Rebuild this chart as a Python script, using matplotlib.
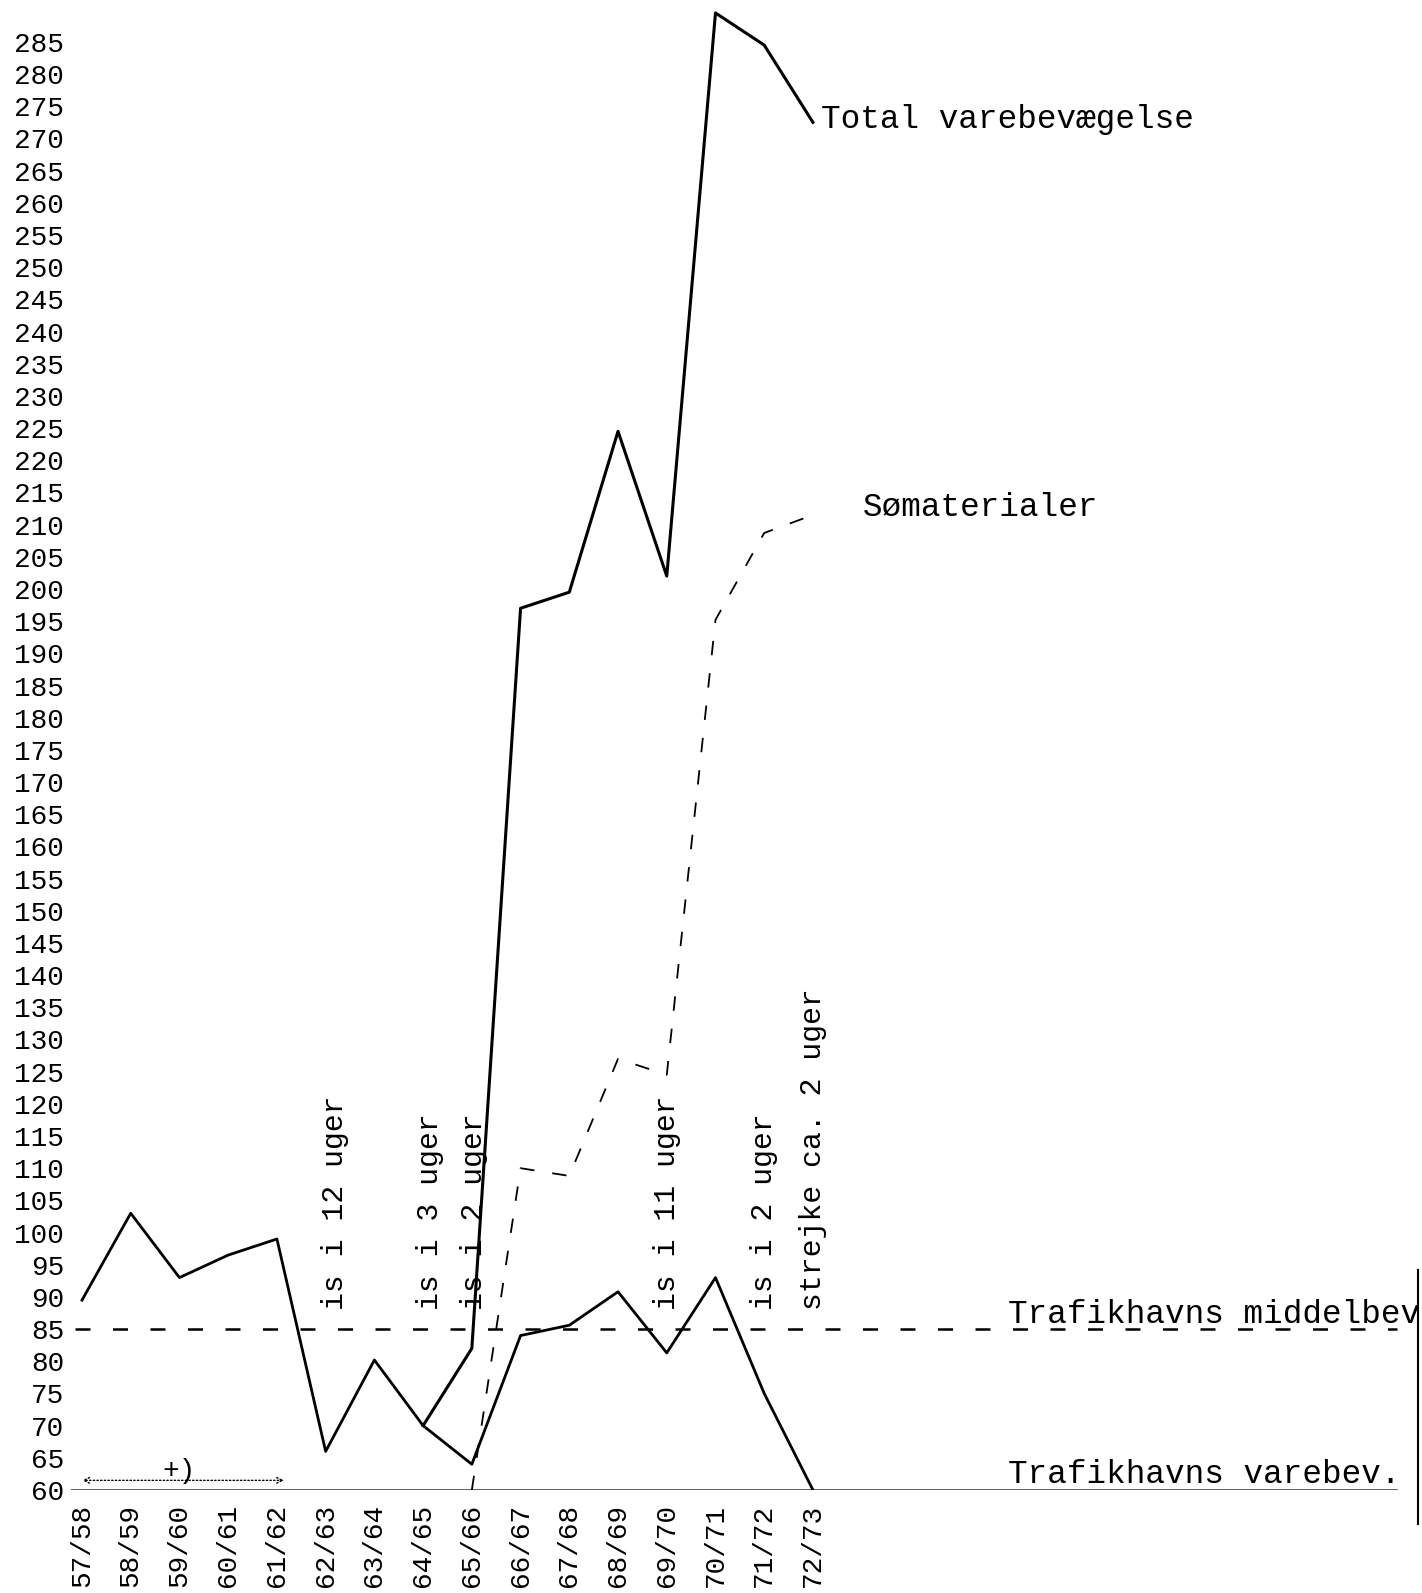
import matplotlib
matplotlib.use("Agg")
import matplotlib.pyplot as plt
import numpy as np

years = ["57/58", "58/59", "59/60", "60/61", "61/62", "62/63", "63/64", "64/65",
         "65/66", "66/67", "67/68", "68/69", "69/70", "70/71", "71/72", "72/73"]
trafik = [89.5, 103, 93, 96.5, 99, 66, 80.2, 70, 64, 84, 85.6, 90.8, 81.3, 93, 75, 60]
total_idx = [7, 8, 9, 10, 11, 12, 13, 14, 15]
total = [70, 82, 197, 199.5, 224.5, 202, 289.5, 284.5, 272.5]
soma_idx = [8, 9, 10, 11, 12, 13, 14, 15]
soma = [60, 110, 108.8, 127, 124.5, 195.2, 208.7, 211.5]
middel = 85
yticks = list(range(60, 290, 5))
ice_x = [5.2, 7.15, 8.05, 12.0, 14.0, 15.0]
ice_txt = ["is i 12 uger", "is i 3 uger", "is i 2 uger", "is i 11 uger",
           "is i 2 uger", "strejke ca. 2 uger"]

W, H = 1422, 1593
fig = plt.figure(figsize=(W / 100, H / 100), dpi=100)
left_px, right_px, bottom_px = 71, 1419, 1490
ax = fig.add_axes([left_px / W, (H - bottom_px) / H, (right_px - left_px) / W, bottom_px / H])
x0_px, dx_px = 82, 48.73
ax.set_xlim((left_px - x0_px) / dx_px, (right_px - x0_px) / dx_px)
ax.set_ylim(60, 60 + bottom_px / 6.436)
for s in ax.spines.values():
    s.set_visible(False)

font = "Liberation Mono"
ax.set_yticks(yticks)
ax.set_yticklabels([str(v) for v in yticks], fontfamily=font, fontsize=20)
ax.set_xticks(range(len(years)))
ax.set_xticklabels(years, rotation=90, fontfamily=font, fontsize=20, va="top")
ax.tick_params(axis="y", length=0, pad=5)
ax.tick_params(axis="x", length=0, pad=10)

ax.axhline(60, color="#444444", lw=1.2, xmax=(1397 - left_px) / (right_px - left_px))
ax.axhline(middel, color="black", lw=1.8, ls=(0, (6, 9)),
           xmin=(75 - left_px) / (right_px - left_px),
           xmax=(1397 - left_px) / (right_px - left_px))

x = np.arange(len(years))
ax.plot(x, trafik, color="black", lw=2)
ax.plot(total_idx, total, color="black", lw=2.2)
ax.plot(soma_idx, soma, color="black", lw=1.3, ls=(0, (8, 10)))

for xi, t in zip(ice_x, ice_txt):
    ax.text(xi, 88, t, rotation=90, ha="center", va="bottom",
            fontfamily=font, fontsize=21.5)

ax.text(15.17, 273, "Total varebevægelse", ha="left", va="center",
        fontfamily=font, fontsize=23.5)
ax.text(16.03, 212.6, "Sømaterialer", ha="left", va="center",
        fontfamily=font, fontsize=23.5)
ax.text(19.0, 87.2, "Trafikhavns middelbev.", ha="left", va="center",
        fontfamily=font, fontsize=23.5, clip_on=True)
ax.text(19.0, 62.4, "Trafikhavns varebev.", ha="left", va="center",
        fontfamily=font, fontsize=23.5)

xr = ax.get_xlim()[1]
ax.plot([xr - 0.02, xr - 0.02], [94.2, 54.7], color="black", lw=1.5, clip_on=False)

ax.annotate("", xy=(-0.05, 61.5), xytext=(4.2, 61.5),
            arrowprops=dict(arrowstyle="<->", color="black", lw=1, ls=":"))
ax.text(2.0, 63, "+)", ha="center", va="center", fontfamily=font, fontsize=20)

fig.savefig("out.png", dpi=100, facecolor="white")
